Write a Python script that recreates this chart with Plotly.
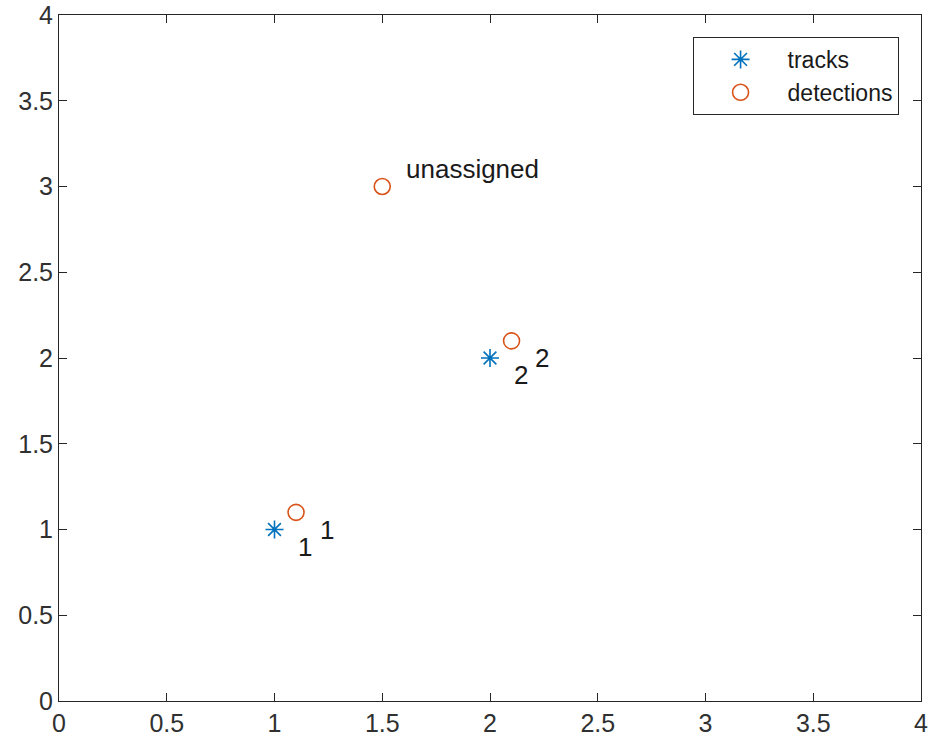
import plotly.graph_objects as go

track_x = [1, 2]
track_y = [1, 2]
det_x = [1.1, 2.1, 1.5]
det_y = [1.1, 2.1, 3]
label_text = ["1", "2", "1", "2", "unassigned"]
label_x = [1.1, 2.1, 1.2, 2.2, 1.6]
label_y = [0.9, 1.9, 1.0, 2.0, 3.1]
tick_vals = [0, 0.5, 1, 1.5, 2, 2.5, 3, 3.5, 4]
tick_text = ["0", "0.5", "1", "1.5", "2", "2.5", "3", "3.5", "4"]

FONT = "Liberation Sans, Arial, Helvetica"

fig = go.Figure()
fig.add_trace(go.Scatter(x=track_x, y=track_y, mode="markers", name="tracks",
                         marker=dict(symbol="asterisk-open", size=15, color="#0072BD",
                                     line=dict(color="#0072BD", width=1.6))))
fig.add_trace(go.Scatter(x=det_x, y=det_y, mode="markers", name="detections",
                         marker=dict(symbol="circle-open", size=16, color="#D95319",
                                     line=dict(color="#D95319", width=1.6))))

for t, x, y in zip(label_text, label_x, label_y):
    fig.add_annotation(x=x, y=y, text=t, showarrow=False, xanchor="left", yanchor="middle",
                       font=dict(family=FONT, size=26, color="#1a1a1a"))

axis_common = dict(range=[0, 4], tickvals=tick_vals, ticktext=tick_text, ticks="inside",
                   ticklen=8, tickwidth=1, tickcolor="#262626", showline=True, linecolor="#262626",
                   linewidth=1, mirror="ticks", showgrid=False, zeroline=False, automargin=False,
                   ticklabeloverflow="allow",
                   tickfont=dict(family=FONT, size=25, color="#303030"))

fig.update_layout(
    width=930, height=744, plot_bgcolor="white", paper_bgcolor="white",
    margin=dict(l=59, r=9, t=15, b=43),
    xaxis=axis_common, yaxis=axis_common,
    showlegend=True,
    legend=dict(x=0.735, y=0.968, xanchor="left", yanchor="top", bordercolor="#262626",
                borderwidth=1, bgcolor="white", itemwidth=84,
                font=dict(family=FONT, size=23, color="#1a1a1a")),
)
fig.write_html("out.html", config={"displayModeBar": False},
               post_script="document.body.style.margin='0';document.body.style.overflow='hidden';")
